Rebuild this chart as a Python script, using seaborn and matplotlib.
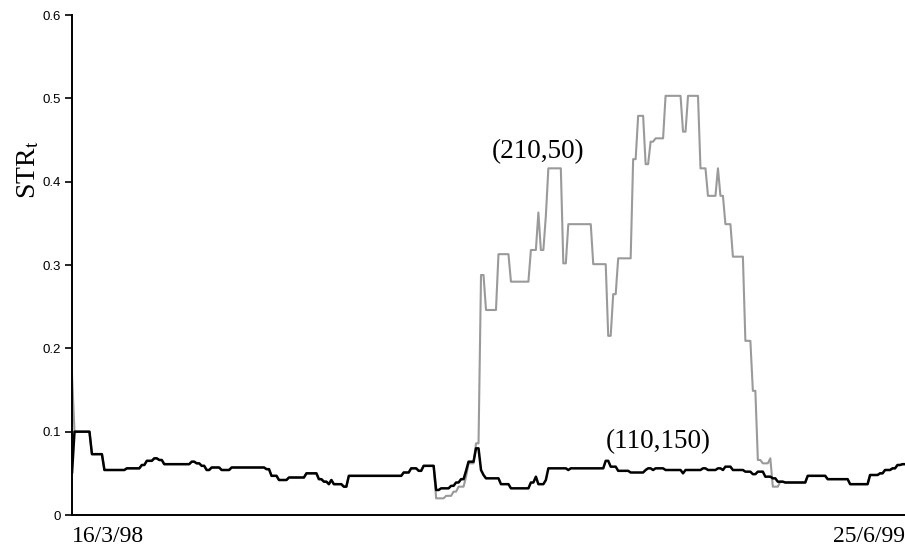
import numpy as np
import pandas as pd
import matplotlib
matplotlib.use("Agg")
import matplotlib.pyplot as plt
import seaborn as sns

# Trading calendar of the sample
trading_days = pd.bdate_range("1998-03-16", "1999-06-25")

# STR_t of the (110,150) rule: trading-day index where the level changes, new level
rule_b_days = [0, 1, 8, 13, 22, 28, 30, 33, 35, 37, 48, 50, 52, 54, 56, 60, 64,
               78, 80, 83, 87, 94, 99, 101, 103, 104, 105, 109, 111, 133, 136,
               139, 141, 146, 148, 152, 154, 156, 158, 159, 162, 164, 165, 166,
               172, 176, 184, 186, 187, 190, 191, 199, 200, 214, 216, 219, 224,
               230, 231, 233, 234, 238, 245, 246, 253, 255, 259, 261, 262, 265,
               270, 273, 275, 278, 281, 283, 286, 295, 303, 312, 320, 324, 326,
               329, 331, 333]
rule_b_levels = [0.050, 0.100, 0.073, 0.054, 0.056, 0.060, 0.065, 0.068, 0.066,
                 0.061, 0.064, 0.062, 0.059, 0.054, 0.057, 0.054, 0.057, 0.055,
                 0.047, 0.042, 0.045, 0.050, 0.043, 0.040, 0.037, 0.042, 0.037,
                 0.034, 0.047, 0.051, 0.056, 0.053, 0.059, 0.030, 0.032, 0.035,
                 0.039, 0.043, 0.053, 0.064, 0.080, 0.054, 0.048, 0.044, 0.037,
                 0.032, 0.039, 0.046, 0.037, 0.042, 0.056, 0.054, 0.056, 0.065,
                 0.058, 0.053, 0.051, 0.054, 0.056, 0.054, 0.056, 0.054, 0.050,
                 0.054, 0.056, 0.054, 0.056, 0.054, 0.058, 0.054, 0.052, 0.049,
                 0.052, 0.046, 0.044, 0.040, 0.039, 0.047, 0.043, 0.037, 0.048,
                 0.050, 0.054, 0.056, 0.060, 0.061]

# STR_t of the (210,50) rule: identical to the (110,150) rule except for the
# first day and the stretch below
rule_a_first_level = 0.168
rule_a_days = [146, 150, 153, 155, 158, 159, 162, 164, 166, 171, 176, 184, 187,
               188, 190, 191, 197, 199, 209, 215, 217, 219, 225, 227, 230, 232,
               234, 238, 245, 247, 252, 255, 259, 260, 262, 265, 270, 273, 275,
               277, 280, 281]
rule_a_levels = [0.020, 0.023, 0.028, 0.034, 0.046, 0.062, 0.086, 0.288, 0.246,
                 0.313, 0.280, 0.318, 0.363, 0.318, 0.359, 0.416, 0.302, 0.349,
                 0.301, 0.215, 0.265, 0.308, 0.427, 0.479, 0.421, 0.448, 0.452,
                 0.503, 0.460, 0.503, 0.416, 0.383, 0.416, 0.383, 0.349, 0.310,
                 0.209, 0.149, 0.066, 0.062, 0.068, 0.034]
rule_a_rejoin_day = 284

y_ticks = [0, 0.1, 0.2, 0.3, 0.4, 0.5, 0.6]
y_tick_labels = ["0", "0.1", "0.2", "0.3", "0.4", "0.5", "0.6"]
rule_labels = ["(210,50)", "(110,150)"]


def step_series(n, days, levels):
    s = pd.Series(np.nan, index=np.arange(n))
    s.iloc[days] = levels
    return s.ffill()


n = len(trading_days)
rule_b = step_series(n, rule_b_days, rule_b_levels)
rule_a = rule_b.copy()
rule_a.iloc[0] = rule_a_first_level
stretch = step_series(n, rule_a_days, rule_a_levels)
span = np.arange(rule_a_days[0], rule_a_rejoin_day)
rule_a.iloc[span] = stretch.iloc[span]

df = pd.DataFrame({"day": np.arange(n), "a": rule_a.values, "b": rule_b.values})

sns.set_style("ticks")
plt.rcParams["font.family"] = ["Liberation Serif", "DejaVu Serif"]
plt.rcParams["mathtext.fontset"] = "stix"
plt.rcParams["text.color"] = "black"
plt.rcParams["axes.labelcolor"] = "black"
plt.rcParams["xtick.color"] = "black"
plt.rcParams["ytick.color"] = "black"

fig = plt.figure(figsize=(9.05, 5.52), dpi=100)
ax = fig.add_axes([72 / 905, 1 - 515 / 552, 1 - 72 / 905, 500 / 552])

sns.lineplot(data=df, x="day", y="a", color="#9a9a9a", linewidth=1.5, ax=ax)
sns.lineplot(data=df, x="day", y="b", color="black", linewidth=1.8, ax=ax)

ax.set_xlim(0, n - 1)
ax.set_ylim(0, 0.6)

ax.set_yticks(y_ticks)
ax.set_yticklabels(y_tick_labels, family=["Liberation Sans"], fontsize=9.5)
ax.tick_params(axis="y", length=5, width=1.2, pad=3, colors="black")

fmt = lambda d: f"{d.day}/{d.month}/{d.strftime('%y')}"
ax.set_xticks([0, n - 1])
ax.set_xticklabels([fmt(trading_days[0]), fmt(trading_days[-1])], fontsize=17)
ax.get_xticklabels()[0].set_horizontalalignment("left")
ax.get_xticklabels()[1].set_horizontalalignment("right")
ax.tick_params(axis="x", length=0, pad=8, colors="black")

ax.set_xlabel("")
ax.set_ylabel(r"STR$_\mathrm{t}$", fontsize=20, color="black")
ax.yaxis.set_label_coords(-0.037, 0.69)

for side in ("top", "right"):
    ax.spines[side].set_visible(False)
for side in ("left", "bottom"):
    ax.spines[side].set_linewidth(1.4)
    ax.spines[side].set_color("black")

ax.text(187, 0.436, rule_labels[0], ha="center", va="center", fontsize=19.5,
        color="black")
ax.text(235, 0.088, rule_labels[1], ha="center", va="center", fontsize=19.5,
        color="black")

fig.savefig("out.png", dpi=100)
